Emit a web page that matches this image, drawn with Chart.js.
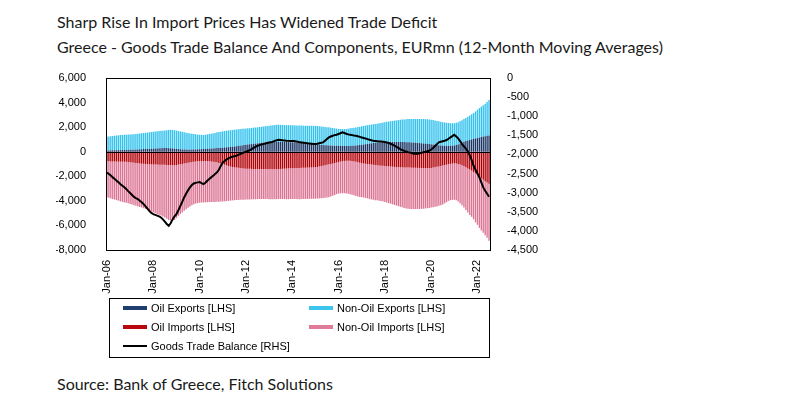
<!DOCTYPE html>
<html lang="en">
<head>
<meta charset="UTF-8">
<title>Greece - Goods Trade Balance And Components</title>
<script src="https://cdn.jsdelivr.net/npm/chart.js"></script>
<style>
  body { margin: 0; background: #fff; font-family: "Liberation Sans", Arial, sans-serif; }
  #page { position: relative; width: 791px; height: 395px; overflow: hidden; }
  .title { position: absolute; left: 57px; font-family: Lato, sans-serif; font-size: 16px; color: #1a1a1a; white-space: nowrap; }
  #chartBox { position: absolute; left: 0; top: 0; width: 791px; height: 300px; }
  #legend { position: absolute; left: 109px; top: 298px; width: 379px; height: 58px; border: 1px solid #000; font-size: 11px; color: #000; }
  .item { position: absolute; white-space: nowrap; line-height: 13px; }
  .sw { display: inline-block; width: 24px; height: 4px; vertical-align: middle; margin-right: 4px; position: relative; top: -1px; }
</style>
</head>
<body>
<div id="page">
  <div class="title" style="top:12px">Sharp Rise In Import Prices Has Widened Trade Deficit</div>
  <div class="title" style="top:37px">Greece - Goods Trade Balance And Components, EURmn (12-Month Moving Averages)</div>
  <div id="chartBox"><canvas id="chart"></canvas></div>
  <div id="legend">
    <div class="item" style="left:13px; top:3px"><span class="sw" style="background:#1f3f6e"></span>Oil Exports [LHS]</div>
    <div class="item" style="left:199px; top:3px"><span class="sw" style="background:#3cc6ef"></span>Non-Oil Exports [LHS]</div>
    <div class="item" style="left:13px; top:22px"><span class="sw" style="background:#b8070f"></span>Oil Imports [LHS]</div>
    <div class="item" style="left:199px; top:22px"><span class="sw" style="background:#e07c9a"></span>Non-Oil Imports [LHS]</div>
    <div class="item" style="left:13px; top:41px"><span class="sw" style="background:#000;height:2px"></span>Goods Trade Balance [RHS]</div>
  </div>
  <div class="title" style="top:374px">Source: Bank of Greece, Fitch Solutions</div>
</div>

<script>
// monthly categories Jan-06 .. Jul-22
const monthNames = ['Jan','Feb','Mar','Apr','May','Jun','Jul','Aug','Sep','Oct','Nov','Dec'];
const months = [];
for (let y = 2006; y <= 2022; y++) {
  for (let m = 0; m < 12; m++) {
    if (y === 2022 && m > 6) break;
    months.push(monthNames[m] + '-' + String(y).slice(2));
  }
}

const leftTicks = [-8000, -6000, -4000, -2000, 0, 2000, 4000, 6000];
const rightTicks = [-4500, -4000, -3500, -3000, -2500, -2000, -1500, -1000, -500, 0];

// EURmn, 12-month moving averages, one row per year
const oilExports = [
  100, 105, 110, 115, 120, 125, 130, 130, 135, 140, 145, 150,
  150, 160, 170, 180, 190, 200, 210, 220, 230, 235, 240, 245,
  250, 260, 270, 280, 290, 295, 300, 300, 290, 280, 265, 245,
  230, 215, 200, 190, 180, 175, 170, 170, 175, 180, 190, 195,
  200, 210, 220, 230, 240, 250, 260, 270, 285, 300, 310, 320,
  330, 345, 360, 375, 390, 405, 420, 440, 465, 490, 515, 540,
  560, 580, 600, 620, 640, 660, 680, 700, 720, 735, 750, 765,
  780, 790, 795, 800, 800, 800, 800, 795, 795, 790, 785, 780,
  780, 770, 760, 745, 730, 715, 700, 685, 670, 650, 635, 615,
  600, 585, 570, 555, 540, 530, 520, 510, 500, 495, 490, 485,
  480, 478, 475, 473, 472, 470, 470, 480, 495, 515, 535, 550,
  560, 585, 610, 635, 660, 680, 700, 715, 730, 745, 755, 765,
  770, 775, 780, 785, 788, 790, 790, 790, 788, 785, 783, 780,
  780, 770, 760, 745, 730, 715, 700, 685, 670, 655, 640, 620,
  600, 580, 560, 540, 520, 500, 490, 485, 480, 478, 480, 490,
  510, 540, 580, 650, 730, 810, 880, 920, 960, 1000, 1050, 1080,
  1110, 1150, 1200, 1230, 1260, 1290, 1320
];

const nonOilExports = [
  1120, 1135, 1150, 1165, 1180, 1195, 1210, 1230, 1235, 1240, 1245, 1250,
  1260, 1260, 1260, 1260, 1270, 1280, 1290, 1300, 1310, 1325, 1340, 1355,
  1370, 1380, 1390, 1400, 1410, 1415, 1430, 1450, 1480, 1510, 1505, 1505,
  1490, 1475, 1450, 1430, 1400, 1375, 1350, 1320, 1295, 1260, 1230, 1205,
  1180, 1160, 1140, 1150, 1170, 1190, 1210, 1230, 1245, 1280, 1290, 1310,
  1330, 1335, 1350, 1355, 1360, 1365, 1370, 1370, 1365, 1360, 1345, 1330,
  1320, 1320, 1320, 1320, 1320, 1310, 1305, 1310, 1310, 1315, 1320, 1325,
  1330, 1340, 1355, 1370, 1400, 1400, 1390, 1385, 1375, 1375, 1375, 1375,
  1370, 1375, 1380, 1390, 1400, 1410, 1420, 1435, 1445, 1465, 1475, 1495,
  1510, 1505, 1500, 1495, 1490, 1480, 1470, 1475, 1460, 1435, 1410, 1395,
  1380, 1372, 1370, 1372, 1378, 1400, 1430, 1445, 1455, 1465, 1475, 1490,
  1510, 1515, 1520, 1525, 1525, 1530, 1535, 1545, 1555, 1565, 1585, 1605,
  1630, 1655, 1680, 1695, 1712, 1735, 1760, 1785, 1812, 1830, 1847, 1865,
  1875, 1890, 1900, 1920, 1935, 1950, 1960, 1975, 1990, 2005, 2010, 2010,
  2010, 2010, 1990, 1970, 1950, 1930, 1910, 1895, 1880, 1862, 1840, 1820,
  1810, 1810, 1820, 1830, 1840, 1850, 1870, 1930, 1990, 2050, 2100, 2200,
  2310, 2400, 2470, 2550, 2640, 2760, 2880
];

const oilImports = [
  -780, -785, -790, -795, -800, -805, -808, -810, -814, -817, -820, -840,
  -860, -880, -900, -920, -940, -955, -970, -980, -1000, -1010, -1020, -1030,
  -1040, -1045, -1050, -1055, -1060, -1065, -1070, -1075, -1080, -1090, -1095, -1100,
  -1080, -1050, -1020, -990, -960, -930, -900, -870, -840, -810, -790, -780,
  -775, -770, -765, -760, -765, -775, -790, -810, -830, -865, -910, -960,
  -1010, -1060, -1110, -1160, -1210, -1250, -1270, -1290, -1310, -1330, -1350, -1365,
  -1380, -1385, -1390, -1400, -1405, -1410, -1410, -1410, -1410, -1410, -1410, -1410,
  -1410, -1410, -1410, -1410, -1410, -1405, -1400, -1390, -1380, -1370, -1360, -1350,
  -1345, -1340, -1330, -1325, -1320, -1315, -1310, -1300, -1295, -1290, -1280, -1270,
  -1260, -1240, -1210, -1180, -1150, -1110, -1070, -1030, -1000, -960, -920, -880,
  -840, -800, -770, -750, -735, -730, -740, -760, -790, -820, -860, -900,
  -930, -960, -985, -1000, -1020, -1040, -1060, -1080, -1100, -1120, -1135, -1145,
  -1160, -1175, -1190, -1205, -1220, -1240, -1255, -1260, -1265, -1270, -1275, -1285,
  -1290, -1295, -1300, -1305, -1310, -1315, -1320, -1325, -1330, -1335, -1340, -1335,
  -1320, -1295, -1265, -1230, -1200, -1165, -1125, -1085, -1050, -1020, -990, -965,
  -945, -960, -990, -1040, -1100, -1180, -1270, -1360, -1450, -1540, -1650, -1750,
  -1870, -2000, -2150, -2280, -2400, -2500, -2600
];

const nonOilImports = [
  -2930, -2965, -3010, -3045, -3090, -3135, -3182, -3230, -3266, -3303, -3340, -3360,
  -3390, -3420, -3450, -3480, -3510, -3545, -3580, -3620, -3660, -3710, -3770, -3820,
  -3880, -3945, -4010, -4075, -4140, -4205, -4280, -4375, -4480, -4510, -4525, -4460,
  -4320, -4200, -4080, -3960, -3840, -3750, -3660, -3580, -3510, -3470, -3430, -3400,
  -3375, -3370, -3365, -3360, -3345, -3325, -3305, -3280, -3255, -3215, -3160, -3100,
  -3040, -2980, -2910, -2840, -2770, -2715, -2680, -2650, -2620, -2590, -2560, -2535,
  -2515, -2505, -2495, -2480, -2470, -2460, -2450, -2445, -2440, -2440, -2440, -2440,
  -2450, -2460, -2465, -2460, -2450, -2445, -2445, -2460, -2480, -2500, -2505, -2505,
  -2505, -2510, -2525, -2535, -2540, -2540, -2540, -2545, -2545, -2545, -2550, -2560,
  -2565, -2575, -2590, -2600, -2610, -2630, -2650, -2670, -2650, -2630, -2600, -2570,
  -2570, -2590, -2610, -2630, -2665, -2700, -2730, -2750, -2760, -2780, -2780, -2780,
  -2770, -2770, -2775, -2800, -2820, -2840, -2860, -2870, -2860, -2870, -2885, -2915,
  -2940, -2965, -2990, -3025, -3060, -3090, -3125, -3170, -3215, -3260, -3305, -3335,
  -3360, -3365, -3365, -3365, -3360, -3350, -3340, -3325, -3310, -3285, -3260, -3245,
  -3230, -3225, -3215, -3220, -3200, -3185, -3175, -3115, -3050, -2980, -2960, -2955,
  -2955, -2990, -3060, -3160, -3250, -3370, -3480, -3590, -3700, -3760, -3850, -4000,
  -4080, -4200, -4250, -4320, -4400, -4500, -4640
];

const tradeBalance = [
  -2470, -2510, -2550, -2600, -2640, -2690, -2730, -2780, -2820, -2860, -2906, -2960,
  -3010, -3060, -3110, -3140, -3168, -3210, -3250, -3298, -3360, -3420, -3480, -3530,
  -3560, -3580, -3600, -3620, -3648, -3700, -3760, -3820, -3866, -3800, -3700, -3620,
  -3560, -3460, -3350, -3240, -3124, -3030, -2940, -2862, -2800, -2760, -2740, -2731,
  -2720, -2750, -2775, -2740, -2690, -2644, -2600, -2560, -2510, -2470, -2400, -2300,
  -2208, -2170, -2130, -2100, -2077, -2060, -2045, -2033, -2010, -1990, -1970, -1945,
  -1930, -1910, -1885, -1860, -1830, -1800, -1772, -1755, -1740, -1728, -1715, -1700,
  -1690, -1684, -1665, -1645, -1630, -1615, -1620, -1630, -1635, -1641, -1645, -1648,
  -1650, -1650, -1660, -1670, -1684, -1690, -1696, -1702, -1710, -1715, -1720, -1725,
  -1728, -1720, -1705, -1695, -1684, -1640, -1595, -1553, -1530, -1510, -1495, -1484,
  -1465, -1445, -1422, -1440, -1460, -1475, -1484, -1495, -1505, -1510, -1525, -1540,
  -1555, -1571, -1585, -1600, -1615, -1630, -1641, -1648, -1654, -1660, -1663, -1667,
  -1675, -1685, -1702, -1720, -1745, -1772, -1800, -1830, -1859, -1885, -1905, -1925,
  -1940, -1950, -1965, -1980, -1990, -1985, -1970, -1955, -1940, -1930, -1915, -1902,
  -1870, -1830, -1780, -1730, -1684, -1670, -1655, -1640, -1623, -1590, -1555, -1520,
  -1484, -1530, -1580, -1650, -1728, -1790, -1850, -1920, -2020, -2150, -2296, -2400,
  -2500, -2600, -2730, -2862, -2950, -3030, -3107
];

const fmt = v => Number(v).toLocaleString('en-US');

// plot frame and zero line, drawn over the bars
const framePlugin = {
  id: 'frame',
  afterDatasetsDraw(chart) {
    const { ctx, chartArea: a, scales } = chart;
    const y0 = Math.round(scales.y.getPixelForValue(0)) + 0.5;
    ctx.save();
    ctx.strokeStyle = '#000';
    ctx.lineWidth = 1;
    ctx.beginPath();
    ctx.moveTo(a.left, y0);
    ctx.lineTo(a.right, y0);
    ctx.stroke();
    ctx.strokeRect(Math.round(a.left) + 0.5, Math.round(a.top) + 0.5,
      Math.round(a.right - a.left), Math.round(a.bottom - a.top));
    ctx.restore();
  }
};

const barOpts = { barPercentage: 0.72, categoryPercentage: 1.0, borderWidth: 0, order: 1, yAxisID: 'y' };

new Chart(document.getElementById('chart'), {
  type: 'bar',
  data: {
    labels: months,
    datasets: [
      { label: 'Oil Exports [LHS]', data: oilExports, backgroundColor: '#1a3766', ...barOpts },
      { label: 'Non-Oil Exports [LHS]', data: nonOilExports, backgroundColor: '#34c2ee', ...barOpts },
      { label: 'Oil Imports [LHS]', data: oilImports, backgroundColor: '#b00008', ...barOpts },
      { label: 'Non-Oil Imports [LHS]', data: nonOilImports, backgroundColor: '#dc7494', ...barOpts },
      { type: 'line', label: 'Goods Trade Balance [RHS]', data: tradeBalance, yAxisID: 'y1',
        borderColor: '#000', borderWidth: 2, pointRadius: 0, tension: 0, order: 0 }
    ]
  },
  options: {
    responsive: true,
    maintainAspectRatio: false,
    animation: false,
    layout: { padding: { left: 56, right: 251, top: 78, bottom: 5 } },
    plugins: { legend: { display: false }, tooltip: { enabled: false } },
    scales: {
      x: {
        stacked: true,
        offset: true,
        grid: { display: false },
        border: { display: false },
        afterFit: s => { s.height = 45; },
        ticks: {
          autoSkip: false, maxRotation: 90, minRotation: 90, padding: 2,
          color: '#000', font: { size: 11, family: '"Liberation Sans", Arial, sans-serif' },
          callback: (v, i) => (i % 24 === 0 ? months[i] : null)
        }
      },
      y: {
        stacked: true,
        position: 'left',
        min: leftTicks[0], max: leftTicks[leftTicks.length - 1],
        afterBuildTicks: s => { s.ticks = leftTicks.map(v => ({ value: v })); },
        afterFit: s => { s.width = 50; },
        grid: { display: false },
        border: { display: false },
        ticks: { color: '#000', padding: 12, font: { size: 11, family: '"Liberation Sans", Arial, sans-serif' }, callback: fmt }
      },
      y1: {
        position: 'right',
        min: rightTicks[0], max: rightTicks[rightTicks.length - 1],
        afterBuildTicks: s => { s.ticks = rightTicks.map(v => ({ value: v })); },
        afterFit: s => { s.width = 50; },
        grid: { display: false },
        border: { display: false },
        ticks: { color: '#000', padding: 9, font: { size: 11, family: '"Liberation Sans", Arial, sans-serif' }, callback: fmt }
      }
    }
  },
  plugins: [framePlugin]
});
</script>
</body>
</html>
